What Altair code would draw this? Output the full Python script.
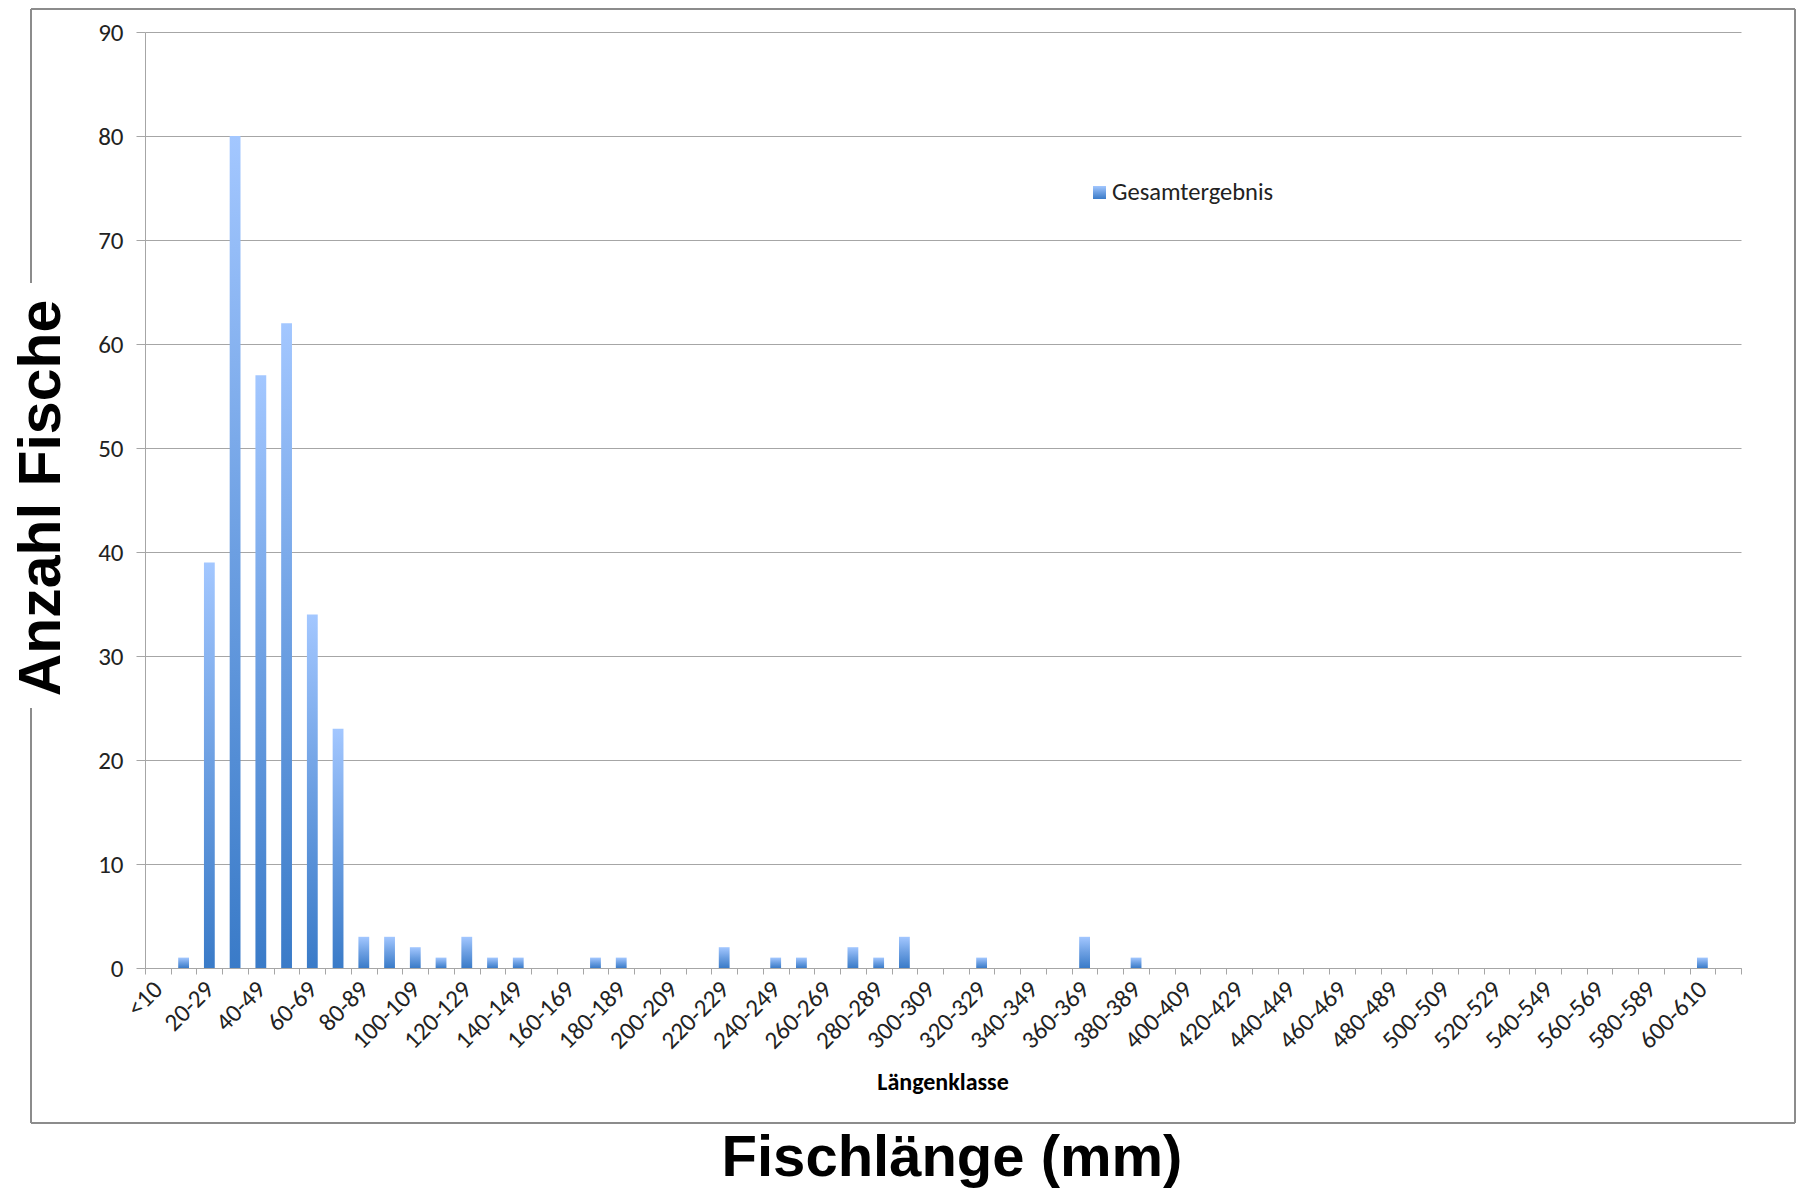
import json
import altair as alt
import pandas as pd

# ---- data -------------------------------------------------------------
categories = ["<10"] + [f"{10*i}-{10*i+9}" for i in range(1, 60)] + ["600-610", "(Leer)"]
counts = [0, 1, 39, 80, 57, 62, 34, 23, 3, 3,
          2, 1, 3, 1, 1, 0, 0, 1, 1, 0,
          0, 0, 2, 0, 1, 1, 0, 2, 1, 3,
          0, 0, 1, 0, 0, 0, 3, 0, 1, 0,
          0, 0, 0, 0, 0, 0, 0, 0, 0, 0,
          0, 0, 0, 0, 0, 0, 0, 0, 0, 0,
          1, 0]
shown_labels = categories[0:61:2]
y_ticks = [0, 10, 20, 30, 40, 50, 60, 70, 80, 90]
series_name = "Gesamtergebnis"
y_title = "Anzahl Fische"
x_title = "Längenklasse"
main_title = "Fischlänge (mm)"

df = pd.DataFrame({"Längenklasse": categories, "Anzahl": counts})
dummy = pd.DataFrame({"k": [0]})

# ---- style ------------------------------------------------------------
W, H = 1596, 936
tick_font = "Carlito, Lato, sans-serif"
big_font = "Liberation Sans Narrow, Arial Narrow, Liberation Sans, Arial, sans-serif"
grid_c = "#A6A6A6"
border_c = "#8C8C8C"

grad = alt.Gradient(
    gradient="linear", x1=0, x2=0, y1=0, y2=1,
    stops=[alt.GradientStop(color="#A3C7FF", offset=0),
           alt.GradientStop(color="#6C9FE2", offset=0.5),
           alt.GradientStop(color="#3A7BC8", offset=1)],
)

label_expr = "indexof(" + json.dumps(shown_labels) + ", datum.value) >= 0 ? datum.label : ''"

bars = alt.Chart(df).mark_bar(color=grad, width=alt.RelativeBandSize(0.42)).encode(
    x=alt.X("Längenklasse:N", sort=categories,
            scale=alt.Scale(paddingInner=0, paddingOuter=0),
            axis=alt.Axis(title=None, labelAngle=-45, labelAlign="right",
                          labelBaseline="middle", labelExpr=label_expr,
                          labelOverlap=False, tickBand="extent", tickSize=6,
                          labelPadding=11, labelFont=tick_font, labelFontSize=25,
                          labelColor="#222222", domainColor=grid_c, tickColor=grid_c,
                          grid=False)),
    y=alt.Y("Anzahl:Q", scale=alt.Scale(domain=[0, 90], nice=False),
            axis=alt.Axis(title=None, values=y_ticks, tickSize=9, labelPadding=13,
                          labelFont=tick_font, labelFontSize=25, labelColor="#222222",
                          domainColor=grid_c, tickColor=grid_c, grid=True,
                          gridColor=grid_c, gridWidth=1)),
)

def vrule(x, y1, y2):
    return alt.Chart(dummy).mark_rule(color=border_c, strokeWidth=2).encode(
        x=alt.value(x), y=alt.value(y1), y2=alt.value(y2))

def hrule(x1, x2, y):
    return alt.Chart(dummy).mark_rule(color=border_c, strokeWidth=2).encode(
        x=alt.value(x1), x2=alt.value(x2), y=alt.value(y))

border = [
    vrule(-114, -23, 251),
    vrule(-114, 676, 1091),
    hrule(-114, 1650, -23),
    hrule(-114, 1650, 1091),
    vrule(1650, -23, 1091),
]

legend_box = alt.Chart(dummy).mark_rect(color=grad).encode(
    x=alt.value(948), x2=alt.value(961), y=alt.value(154), y2=alt.value(167))
legend_text = alt.Chart(dummy).mark_text(
    align="left", baseline="alphabetic", font=tick_font, fontSize=24.5, color="#222222"
).encode(x=alt.value(967), y=alt.value(168), text=alt.value(series_name))

ytitle = alt.Chart(dummy).mark_text(
    angle=270, align="center", baseline="alphabetic", font=big_font,
    fontSize=59, fontWeight="bold", color="#000000"
).encode(x=alt.value(-85), y=alt.value(466), text=alt.value(y_title))

xtitle = alt.Chart(dummy).mark_text(
    align="center", baseline="alphabetic", font=tick_font,
    fontSize=24, fontWeight="bold", color="#000000"
).encode(x=alt.value(798), y=alt.value(1058), text=alt.value(x_title))

mtitle = alt.Chart(dummy).mark_text(
    align="center", baseline="alphabetic", font=big_font,
    fontSize=58, fontWeight="bold", color="#000000"
).encode(x=alt.value(807), y=alt.value(1144), text=alt.value(main_title))

chart = alt.layer(
    *border, bars, legend_box, legend_text, ytitle, xtitle, mtitle
).properties(
    width=W, height=H,
    autosize=alt.AutoSizeParams(type="none"),
    padding={"left": 137, "top": 24, "right": 56, "bottom": 220},
).configure_view(stroke=None)

chart.save("out.html", embed_options={"renderer": "svg", "actions": False})
